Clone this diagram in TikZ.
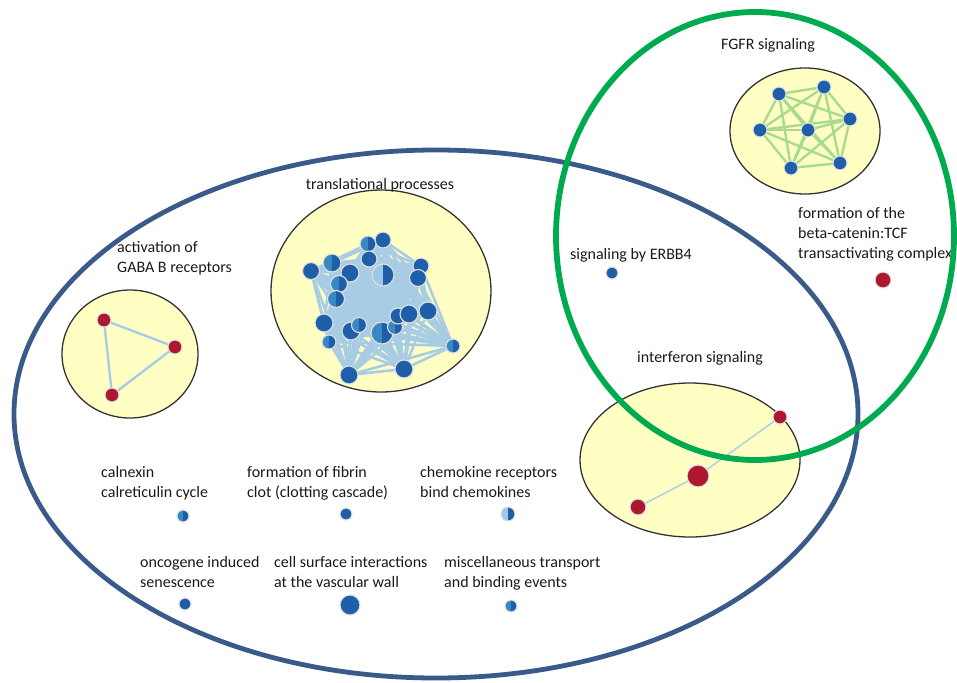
\documentclass[tikz,border=0pt]{standalone}
\usepackage{fontspec}
\setmainfont{Carlito}
\definecolor{nodedark}{HTML}{1F5FAA}
\definecolor{nodemid}{HTML}{3A88C2}
\definecolor{nodelight}{HTML}{9EC8E6}
\definecolor{nodered}{HTML}{AE1730}
\definecolor{clfill}{HTML}{FFFFC4}
\definecolor{clborder}{HTML}{333333}
\definecolor{bigblue}{HTML}{3A5A8A}
\definecolor{biggreen}{HTML}{00AA4F}
\definecolor{edgeblue}{HTML}{A9CCE5}
\definecolor{edgegreen}{HTML}{A8DC8C}
\pgfdeclarelayer{back}
\pgfdeclarelayer{edges}
\pgfdeclarelayer{front}
\pgfsetlayers{back,edges,main,front}
\tikzset{
  gnode/.style={circle, fill=nodedark, draw=black!12, line width=1.1pt, inner sep=0pt, minimum size=#1},
  snode/.style={gnode=#1, path picture={\fill[nodemid] (path picture bounding box.south west) rectangle (path picture bounding box.north);}},
  lnode/.style={gnode=#1, path picture={\fill[nodelight] (path picture bounding box.south west) rectangle (path picture bounding box.north);}},
  rnode/.style={gnode=#1, fill=nodered},
  cluster/.style={draw=clborder, fill=clfill, line width=1.3pt},
  tedge/.style={draw=edgeblue, line width=2.6pt},
  fedge/.style={draw=edgegreen, line width=2.4pt},
  lbl/.style={font=\fontsize{16}{20}\selectfont, inner sep=0pt, text=black!90},
  lbll/.style={lbl, align=left, anchor=north west},
}
\begin{document}
\begin{tikzpicture}[x=1pt,y=-1pt]
\useasboundingbox (0,0) rectangle (957,682);
% cluster backgrounds
\begin{pgfonlayer}{back}
\draw[cluster] (381,291) ellipse [x radius=110, y radius=101];
\draw[cluster] (805,131) ellipse [x radius=75, y radius=63];
\draw[cluster] (130,354) ellipse [x radius=68, y radius=64];
\draw[cluster] (690,460) ellipse [x radius=110, y radius=77];
\end{pgfonlayer}
% translational nodes
\node[lnode=22] (t7) at (383,275) {};
\node[gnode=16] (t1) at (383,240) {};
\node[snode=16] (t2) at (368,244) {};
\node[gnode=16] (t3) at (369,259) {};
\node[snode=18] (t4) at (332,263) {};
\node[gnode=18] (t5) at (350,273) {};
\node[gnode=17] (t6) at (311,271) {};
\node[gnode=16] (t8) at (421,266) {};
\node[gnode=17] (t9) at (418,278) {};
\node[snode=17] (t10) at (339,284) {};
\node[snode=17] (t11) at (336,299) {};
\node[gnode=18] (t12) at (324,323) {};
\node[snode=14] (t13) at (329,342) {};
\node[gnode=18] (t14) at (351,331) {};
\node[snode=15] (t15) at (359,325) {};
\node[snode=22] (t16) at (382,333) {};
\node[snode=15] (t17) at (395,327) {};
\node[gnode=16] (t18) at (398,316) {};
\node[gnode=18] (t19) at (409,314) {};
\node[gnode=18] (t20) at (428,311) {};
\node[snode=14] (t21) at (453,346) {};
\node[gnode=18] (t22) at (349,375) {};
\node[gnode=18] (t23) at (404,369) {};
\begin{pgfonlayer}{edges}
\foreach \i in {1,...,22}{
  \pgfmathtruncatemacro\nxt{\i+1}
  \foreach \j in {\nxt,...,23}{\draw[tedge] (t\i.center) -- (t\j.center);}
}
\end{pgfonlayer}
% FGFR nodes
\node[gnode=14] (f1) at (779,94) {};
\node[gnode=14] (f2) at (824,87) {};
\node[gnode=14] (f3) at (850,119) {};
\node[gnode=14] (f4) at (760,130) {};
\node[gnode=14] (f5) at (808,130) {};
\node[gnode=14] (f6) at (791,168) {};
\node[gnode=14] (f7) at (840,163) {};
\begin{pgfonlayer}{edges}
\foreach \i in {1,...,6}{
  \pgfmathtruncatemacro\nxt{\i+1}
  \foreach \j in {\nxt,...,7}{\draw[fedge] (f\i.center) -- (f\j.center);}
}
\end{pgfonlayer}
% GABA nodes
\node[rnode=14] (g1) at (104,320) {};
\node[rnode=14] (g2) at (175,347) {};
\node[rnode=14] (g3) at (112,395) {};
\begin{pgfonlayer}{edges}
\draw[tedge, line width=2.4pt] (g1.center) -- (g2.center) -- (g3.center) -- (g1.center);
\end{pgfonlayer}
% interferon nodes
\node[rnode=14] (i1) at (780,417) {};
\node[rnode=22] (i2) at (698,476) {};
\node[rnode=16] (i3) at (638,507) {};
\begin{pgfonlayer}{edges}
\draw[tedge, line width=1.4pt] (i1.center) -- (i2.center) -- (i3.center);
\end{pgfonlayer}
% single nodes
\node[gnode=12] (erbb) at (612,273) {};
\node[rnode=16] (beta) at (883,280) {};
\node[snode=12] (caln) at (183,516) {};
\node[gnode=12] (fibr) at (346,514) {};
\node[lnode=14] (chem) at (508,514) {};
\node[gnode=12] (onco) at (185,604) {};
\node[gnode=20] (cell) at (350,605) {};
\node[snode=12] (misc) at (511,606) {};
% labels
\node[lbl, anchor=base] (lfgfr) at (768,50) {FGFR signaling};
\node[lbl, anchor=base] (ltrans) at (380,189) {translational processes};
\node[lbl, anchor=base] (lifn) at (700,362) {interferon signaling};
\node[lbl, anchor=base west] (lerbb) at (570,259) {signaling by ERBB4};
\node[lbll] (lgaba) at (117,241) {activation of\\GABA B receptors};
\node[lbll] (lbeta) at (798,207) {formation of the\\beta-catenin:TCF\\transactivating complex};
\node[lbll] (lcaln) at (101,466) {calnexin\\calreticulin cycle};
\node[lbll] (lfibr) at (247,466) {formation of fibrin\\clot (clotting cascade)};
\node[lbll] (lchem) at (420,466) {chemokine receptors\\bind chemokines};
\node[lbll] (lonco) at (140,556) {oncogene induced\\senescence};
\node[lbll] (lcell) at (274,556) {cell surface interactions\\at the vascular wall};
\node[lbll] (lmisc) at (444,556) {miscellaneous transport\\and binding events};
% big enclosing ellipses
\begin{pgfonlayer}{front}
\draw[bigblue, line width=4.8pt] (436,414) ellipse [x radius=422, y radius=264];
\draw[biggreen, line width=5.8pt] (755,236) ellipse [x radius=199, y radius=224];
\end{pgfonlayer}
\end{tikzpicture}
\end{document}
